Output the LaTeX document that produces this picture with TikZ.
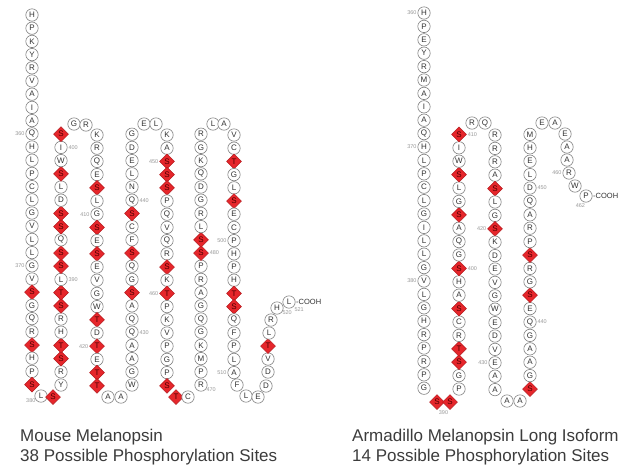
\documentclass[tikz,border=0pt]{standalone}
\usepackage{fontspec}
\setmainfont{Liberation Sans}
\usetikzlibrary{shapes.geometric,calc}
\definecolor{ringgray}{HTML}{808080}
\definecolor{phosred}{HTML}{E6262B}
\definecolor{phosedge}{HTML}{B51A1E}
\definecolor{numgray}{HTML}{999999}
\definecolor{captext}{HTML}{3C3C3C}
\tikzset{
  aa/.style={circle, draw=ringgray, line width=0.6pt, fill=white, minimum size=12.4pt, inner sep=0pt,
    font=\fontsize{8}{8}\selectfont, text=black!80},
  phos/.style={diamond, draw=phosedge, line width=0.5pt, fill=phosred, minimum size=15pt, inner sep=0pt,
    font=\fontsize{8}{8}\selectfont, text=black!70!red},
  num/.style={font=\fontsize{5.5}{5.5}\selectfont, text=numgray, inner sep=0.8pt},
  captxt/.style={font=\fontsize{17}{20}\selectfont, text=captext, anchor=west, inner sep=0pt},
  term/.style={font=\fontsize{7.5}{7.5}\selectfont, text=black!80, anchor=west, inner sep=0.5pt}
}
% column of residues: #1 prefix, #2 first number, #3 x, #4 first y, #5 step, #6 list letter/flag
\newcommand\rcol[6]{%
  \foreach \l/\f [count=\k from 0] in {#6}{%
    \pgfmathtruncatemacro\nn{#2+\k}%
    \pgfmathsetmacro\yy{#4+\k*(#5)}%
    \ifnum\f=1 \node[phos] (#1\nn) at (#3,\yy) {\l};\else \node[aa] (#1\nn) at (#3,\yy) {\l};\fi
  }}
% single residue: #1 name, #2 x, #3 y, #4 letter, #5 flag
\newcommand\rone[5]{%
  \ifnum#5=1 \node[phos] (#1) at (#2,#3) {#4};\else \node[aa] (#1) at (#2,#3) {#4};\fi}
\begin{document}
\begin{tikzpicture}[x=1pt,y=-1pt]
\useasboundingbox (0,0) rectangle (621,467);
\fill[white] (0,0) rectangle (621,467);
%% ---------------- Mouse melanopsin ----------------
\rcol{m}{351}{32}{15}{13.2}{H/0,P/0,K/0,Y/0,R/0,V/0,A/0,I/0,A/0,Q/0,H/0,L/0,P/0,C/0,L/0,G/0,V/0,L/0,L/0,G/0,V/0,S/1,G/0,Q/0,R/0,S/1,H/0,P/0,S/1}
\rone{m380}{41}{396}{L}{0}
\rone{m381}{53}{397}{S}{1}
\rcol{m}{382}{61}{385}{-13.2}{Y/0,R/0,S/1,T/1,H/0,R/0,S/1,T/1,L/0,S/1,S/1,Q/0,S/1,S/1,D/0,L/0,S/1,W/0,I/0,S/1}
\rone{m402}{74}{124}{G}{0}
\rone{m403}{86}{125}{R}{0}
\rcol{m}{404}{97}{135}{13.2}{K/0,R/0,Q/0,E/0,S/1,L/0,G/0,S/1,E/0,S/1,E/0,V/0,G/0,W/0,T/1,D/0,T/1,E/0,T/1,T/1}
\rone{m424}{108}{397}{A}{0}
\rone{m425}{121}{397}{A}{0}
\rcol{m}{426}{132}{385}{-13.2}{W/0,G/0,A/0,A/0,Q/0,Q/0,A/0,S/1,G/0,Q/0,S/1,F/0,C/0,S/1,Q/0,N/0,L/0,E/0,D/0,G/0}
\rone{m446}{144}{124}{E}{0}
\rone{m447}{156}{124}{L}{0}
\rcol{m}{448}{167}{135}{13.2}{K/0,A/0,S/1,S/1,S/1,P/0,Q/0,V/0,Q/0,R/0,S/1,K/0,T/1,P/0,K/0,V/0,P/0,G/0,P/0,S/1}
\rone{m468}{176}{397}{T}{1}
\rone{m469}{188}{397}{C}{0}
\rcol{m}{470}{201}{385}{-13.2}{R/0,P/0,M/0,K/0,G/0,Q/0,G/0,A/0,R/0,P/0,S/1,S/1,L/0,R/0,G/0,D/0,Q/0,K/0,G/0,R/0}
\rone{m490}{213}{124}{L}{0}
\rone{m491}{224}{124}{A}{0}
\rcol{m}{492}{234}{135}{13.2}{V/0,C/0,T/1,G/0,L/0,S/1,E/0,C/0,P/0,H/0,P/0,H/0,T/1,S/1,Q/0,F/0,P/0,L/0,A/0}
\rone{m511}{237}{385}{F}{0}
\rone{m512}{246}{396}{L}{0}
\rone{m513}{258}{397}{E}{0}
\rone{m514}{266}{386}{D}{0}
\rone{m515}{268}{372}{D}{0}
\rone{m516}{268}{359}{V}{0}
\rone{m517}{268}{346}{T}{1}
\rone{m518}{269}{333}{L}{0}
\rone{m519}{271}{320}{R}{0}
\rone{m520}{277}{308}{H}{0}
\rone{m521}{289}{302}{L}{0}
\node[term] (mcooh) at (m521.east) {-COOH};
% numbers
\node[num,anchor=east] (n360) at (m360.west) {360};
\node[num,anchor=east] (n370) at (m370.west) {370};
\node[num,anchor=east] (n380) at (m380.south west) {380};
\node[num,anchor=west] (n390) at (m390.east) {390};
\node[num,anchor=west] (n400) at (m400.east) {400};
\node[num,anchor=east] (n410) at (m410.west) {410};
\node[num,anchor=east] (n420) at (m420.west) {420};
\node[num,anchor=west] (n430) at (m430.east) {430};
\node[num,anchor=west] (n440) at (m440.east) {440};
\node[num,anchor=east] (n450) at (m450.west) {450};
\node[num,anchor=east] (n460) at (m460.west) {460};
\node[num,anchor=west] (n470) at (m470.south east) {470};
\node[num,anchor=west] (n480) at (m480.east) {480};
\node[num,anchor=east] (n500) at (m500.west) {500};
\node[num,anchor=east] (n510) at (m510.west) {510};
\node[num,anchor=north west] (n521) at (m521.south east) {521};
\node[num,anchor=west] (n520) at (m520.south east) {520};
\node[captxt] (mcap1) at (20,437) {Mouse Melanopsin};
\node[captxt] (mcap2) at (20,457) {38 Possible Phosphorylation Sites};
%% ---------------- Armadillo melanopsin ----------------
\rcol{a}{360}{424}{13}{13.4}{H/0,P/0,E/0,Y/0,R/0,M/0,A/0,I/0,A/0,Q/0,H/0,L/0,P/0,C/0,L/0,G/0,I/0,L/0,L/0,G/0,V/0,L/0,G/0,H/0,R/0,P/0,R/0,P/0,G/0}
\rone{a389}{437}{402}{S}{1}
\rone{a390}{450}{402}{S}{1}
\rcol{a}{391}{459}{389}{-13.4}{P/0,G/0,S/1,T/1,R/0,C/0,S/1,A/0,H/0,S/1,G/0,Q/0,A/0,S/1,G/0,L/0,S/1,W/0,I/0,S/1}
\rone{a411}{472}{123}{R}{0}
\rone{a412}{485}{123}{Q}{0}
\rcol{a}{413}{495}{135}{13.4}{R/0,R/0,R/0,A/0,S/1,L/0,G/0,S/1,K/0,D/0,E/0,V/0,G/0,W/0,E/0,D/0,V/0,E/0,A/0,A/0}
\rone{a433}{507}{401}{A}{0}
\rone{a434}{520}{401}{A}{0}
\rcol{a}{435}{530}{389}{-13.4}{S/1,G/0,A/0,A/0,G/0,Q/0,E/0,S/1,G/0,R/0,S/1,P/0,R/0,A/0,Q/0,D/0,L/0,E/0,H/0,M/0}
\rone{a455}{542}{123}{E}{0}
\rone{a456}{555}{123}{A}{0}
\rone{a457}{565}{134}{E}{0}
\rone{a458}{567}{147}{A}{0}
\rone{a459}{567}{160}{A}{0}
\rone{a460}{569}{173}{R}{0}
\rone{a461}{575}{186}{W}{0}
\rone{a462}{586}{196}{P}{0}
\node[term] (acooh) at (a462.east) {-COOH};
\node[num,anchor=east] (an360) at (a360.west) {360};
\node[num,anchor=east] (an370) at (a370.west) {370};
\node[num,anchor=east] (an380) at (a380.west) {380};
\node[num,anchor=north] (an390) at ($(a389.south)!0.5!(a390.south)$) {390};
\node[num,anchor=west] (an400) at (a400.east) {400};
\node[num,anchor=west] (an410) at (a410.east) {410};
\node[num,anchor=east] (an420) at (a420.west) {420};
\node[num,anchor=east] (an430) at (a430.west) {430};
\node[num,anchor=west] (an440) at (a440.east) {440};
\node[num,anchor=west] (an450) at (a450.east) {450};
\node[num,anchor=east] (an460) at (a460.west) {460};
\node[num,anchor=north east] (an462) at (a462.south) {462};
\node[captxt] (acap1) at (352,437) {Armadillo Melanopsin Long Isoform};
\node[captxt] (acap2) at (352,457) {14 Possible Phosphorylation Sites};
\end{tikzpicture}
\end{document}
